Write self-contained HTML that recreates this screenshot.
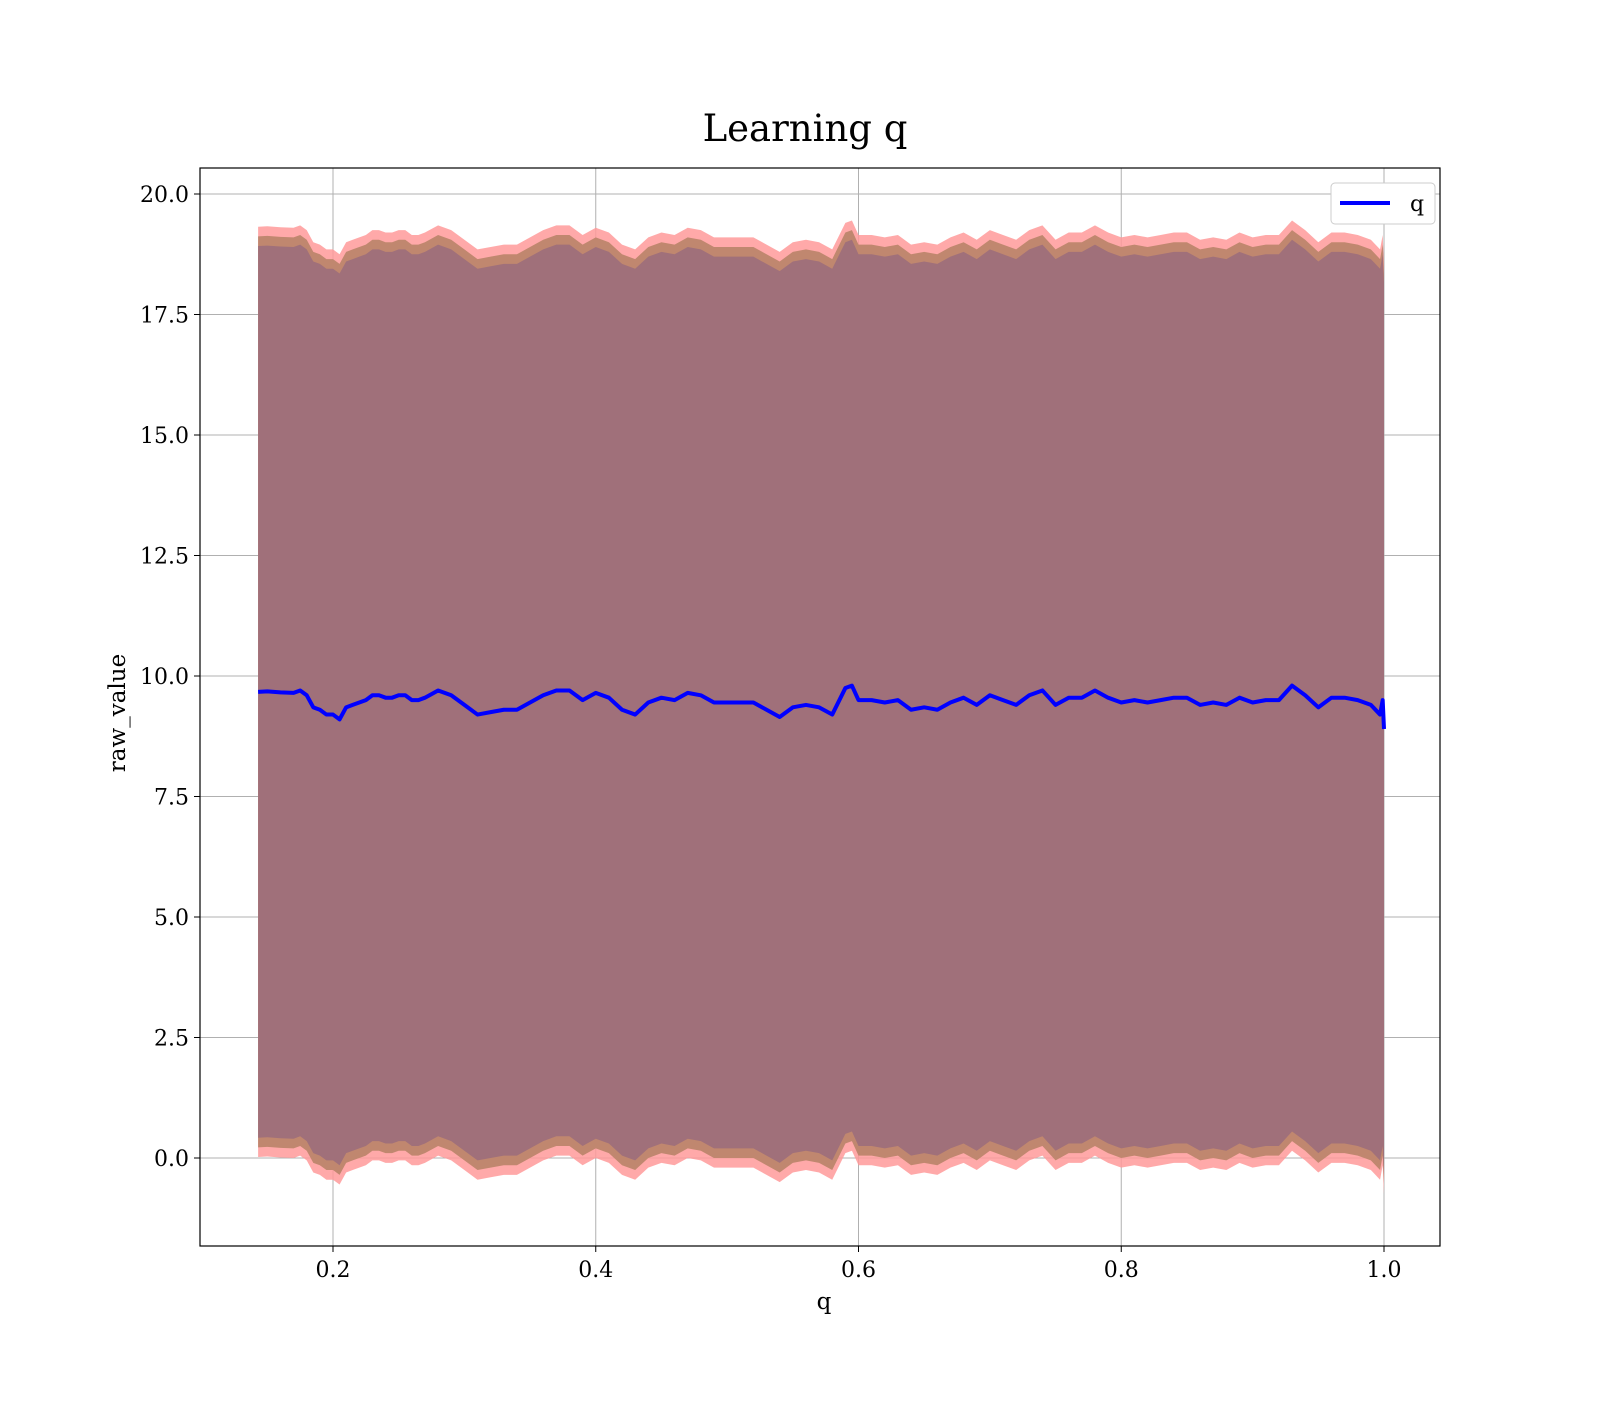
<!DOCTYPE html>
<html><head><meta charset="utf-8"><style>
body{margin:0;background:#fff}
svg text{font-family:"DejaVu Serif","Liberation Serif",serif;fill:#000}
</style></head><body>
<svg id="chart" width="1600" height="1400" xmlns="http://www.w3.org/2000/svg">
<rect width="1600" height="1400" fill="#fff"/>
<g id="grid"></g>
<g id="bands"></g>
<g id="line"></g>
<g id="axes"></g>
<text x="805" y="141" font-size="37" text-anchor="middle">Learning q</text>
<text x="824" y="1309" font-size="23" text-anchor="middle">q</text>
<text transform="translate(125,713) rotate(-90)" font-size="23" text-anchor="middle">raw_value</text>
<g>
<rect x="1331" y="183" width="104" height="41" rx="4" fill="#fff" stroke="#ccc"/>
<line x1="1340" y1="203" x2="1390" y2="203" stroke="#0000ff" stroke-width="4"/>
<text x="1410" y="211" font-size="22">q</text>
</g>
</svg>
<script>
const xs=[0.143,0.15,0.16,0.17,0.175,0.18,0.185,0.19,0.195,0.2,0.205,0.21,0.215,0.22,0.225,0.23,0.235,0.24,0.245,0.25,0.255,0.26,0.265,0.27,0.28,0.29,0.3,0.31,0.32,0.33,0.34,0.35,0.36,0.37,0.38,0.39,0.4,0.41,0.42,0.43,0.44,0.45,0.46,0.47,0.48,0.49,0.5,0.51,0.52,0.53,0.54,0.55,0.56,0.57,0.58,0.59,0.595,0.6,0.61,0.62,0.63,0.64,0.65,0.66,0.67,0.68,0.69,0.7,0.71,0.72,0.73,0.74,0.75,0.76,0.77,0.78,0.79,0.8,0.81,0.82,0.83,0.84,0.85,0.86,0.87,0.88,0.89,0.9,0.91,0.92,0.93,0.94,0.95,0.96,0.97,0.98,0.99,0.997,0.999,1.0];
const means=[9.67,9.68,9.66,9.65,9.7,9.6,9.35,9.3,9.2,9.2,9.1,9.35,9.4,9.45,9.5,9.6,9.6,9.55,9.55,9.6,9.6,9.5,9.5,9.55,9.7,9.6,9.4,9.2,9.25,9.3,9.3,9.45,9.6,9.7,9.7,9.5,9.65,9.55,9.3,9.2,9.45,9.55,9.5,9.65,9.6,9.45,9.45,9.45,9.45,9.3,9.15,9.35,9.4,9.35,9.2,9.75,9.8,9.5,9.5,9.45,9.5,9.3,9.35,9.3,9.45,9.55,9.4,9.6,9.5,9.4,9.6,9.7,9.4,9.55,9.55,9.7,9.55,9.45,9.5,9.45,9.5,9.55,9.55,9.4,9.45,9.4,9.55,9.45,9.5,9.5,9.8,9.6,9.35,9.55,9.55,9.5,9.4,9.2,9.5,8.9];
const bandHalfWidths=[9.65,9.45,9.25];
const bandColors=["#ff9a9a","#c0876f","#a0707a"];
const bandOpac=[0.85,1,1];
const yTicks=[0,2.5,5,7.5,10,12.5,15,17.5,20];
const yTickLabels=["0.0","2.5","5.0","7.5","10.0","12.5","15.0","17.5","20.0"];
const xTicks=[0.2,0.4,0.6,0.8,1.0];
const xTickLabels=["0.2","0.4","0.6","0.8","1.0"];
const L=200,R=1440,T=168,B=1246;
const X=v=>70.25+v*1313.75;
const Y=v=>1158-v*48.2;
const NS="http://www.w3.org/2000/svg";
function mk(tag,attrs,parent){const e=document.createElementNS(NS,tag);for(const k in attrs)e.setAttribute(k,attrs[k]);parent.appendChild(e);return e;}
const grid=document.getElementById('grid'),axes=document.getElementById('axes'),bands=document.getElementById('bands'),line=document.getElementById('line');
yTicks.forEach((t,i)=>{
 const g=mk('line',{x1:L,x2:R,y1:Y(t),y2:Y(t),stroke:'#b0b0b0','stroke-width':1},grid);
 
 
 const tk=mk('line',{x1:L-6,x2:L,y1:Y(t),y2:Y(t),stroke:'#000','stroke-width':1},axes);
 
 
 const tx=mk('text',{x:L-11,y:Y(t)+8,'font-size':22,'text-anchor':'end'},axes);
 tx.textContent=yTickLabels[i];
 
 
});
xTicks.forEach((t,i)=>{
 const g=mk('line',{x1:X(t),x2:X(t),y1:T,y2:B,stroke:'#b0b0b0','stroke-width':1},grid);
 
 
 const tk=mk('line',{x1:X(t),x2:X(t),y1:B,y2:B+6,stroke:'#000','stroke-width':1},axes);
 
 
 const tx=mk('text',{x:X(t),y:B+31,'font-size':22,'text-anchor':'middle'},axes);
 tx.textContent=xTickLabels[i];
 
 
});
bandHalfWidths.forEach((h,bi)=>{
 let up=xs.map((x,i)=>X(x)+','+Y(means[i]+h));
 let dn=xs.map((x,i)=>X(x)+','+Y(means[i]-h)).reverse();
 const p=mk('polygon',{points:up.concat(dn).join(' '),fill:bandColors[bi],'fill-opacity':bandOpac[bi]},bands);
 
 
});
const pl=mk('polyline',{points:xs.map((x,i)=>X(x)+','+Y(means[i])).join(' '),fill:'none',stroke:'#0000ff','stroke-width':4,'stroke-linejoin':'round'},line);


const fr=mk('rect',{x:L,y:T,width:R-L,height:B-T,fill:'none',stroke:'#000','stroke-width':1.2},axes);


</script>
</body></html>
